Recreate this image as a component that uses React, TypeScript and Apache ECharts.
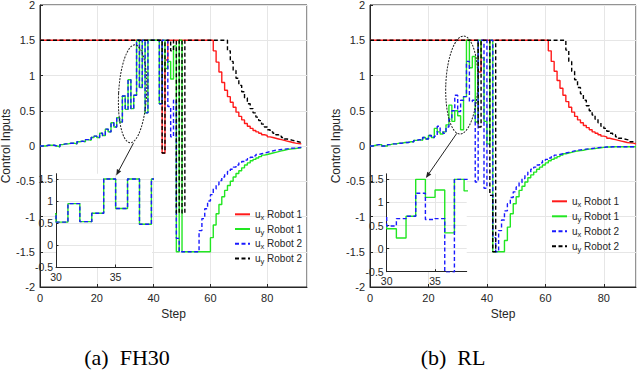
import React, { useEffect, useRef } from 'react';
import * as echarts from 'echarts';

// ---------- (a) FH30 : step index 0..92 ----------
const A_UX1 = [
  1.5, 1.5, 1.5, 1.5, 1.5, 1.5, 1.5, 1.5, 1.5, 1.5,
  1.5, 1.5, 1.5, 1.5, 1.5, 1.5, 1.5, 1.5, 1.5, 1.5,
  1.5, 1.5, 1.5, 1.5, 1.5, 1.5, 1.5, 1.5, 1.5, 1.5,
  1.5, 1.5, 1.5, 1.5, 1.5, 1.5, 1.5, 1.5, 1.5, 1.5,
  1.5, 1.5, 1.5, -0.1, 1.22, 1.5, 1.5, 1.5, 1.5, 1.5,
  1.5, 1.5, 1.5, 1.5, 1.5, 1.5, 1.5, 1.5, 1.5, 1.5,
  1.5, 1.35, 1.19, 1.05, 0.9, 0.79, 0.7, 0.62, 0.55, 0.48,
  0.42, 0.37, 0.32, 0.28, 0.25, 0.22, 0.2, 0.18, 0.16, 0.15,
  0.13, 0.12, 0.11, 0.1, 0.09, 0.08, 0.07, 0.06, 0.05, 0.04,
  0.035, 0.03, 0.025,
];
const A_UY1 = [
  0, 0, 0.01, 0.01, 0.01, 0, -0.01, 0.02, 0.03, 0.03,
  0.04, 0.04, 0.03, 0.06, 0.07, 0.06, 0.09, 0.08, 0.12, 0.14,
  0.12, 0.18, 0.15, 0.24, 0.2, 0.33, 0.27, 0.4, 0.34, 0.71,
  0.52, 0.94, 0.53, 0.72, 1.5, 0.83, 1.5, 0.47, 1.5, 1.5,
  1.5, 1.5, 0.6, 1.5, 1.1, 1.2, 0.95, 1.42, -1.5, 1.5,
  -1.5, -1.5, -1.5, -1.5, -1.5, -1.5, -1.5, -1.5, -1.5, -1.5,
  -1.3, -1.12, -0.96, -0.83, -0.72, -0.63, -0.56, -0.5, -0.44, -0.39,
  -0.35, -0.31, -0.27, -0.24, -0.21, -0.19, -0.17, -0.15, -0.13, -0.12,
  -0.11, -0.1, -0.09, -0.08, -0.07, -0.06, -0.05, -0.045, -0.04, -0.035,
  -0.03, -0.025, -0.02,
];
const A_UX2 = [
  0, 0, 0.01, 0.01, 0.01, 0, -0.01, 0.02, 0.03, 0.03,
  0.04, 0.04, 0.03, 0.06, 0.07, 0.06, 0.09, 0.08, 0.12, 0.14,
  0.12, 0.18, 0.15, 0.24, 0.2, 0.33, 0.27, 0.4, 0.34, 0.71,
  0.52, 0.94, 0.53, 0.72, 1.5, 0.83, 1.5, 0.47, 1.5, 1.5,
  1.5, 1.5, 0.6, 1.5, 1.5, 0.56, 0.13, 0.65, -1.31, -1.5,
  -1.5, -1.5, -1.5, -1.5, -1.5, -1.5, -1.2, -1.03, -0.89, -0.78,
  -0.69, -0.61, -0.55, -0.49, -0.44, -0.4, -0.36, -0.33, -0.3, -0.27,
  -0.24, -0.22, -0.2, -0.18, -0.16, -0.14, -0.12, -0.11, -0.1, -0.09,
  -0.08, -0.07, -0.06, -0.055, -0.05, -0.045, -0.04, -0.035, -0.03, -0.03,
  -0.025, -0.02, -0.02,
];
const A_UY2 = [
  1.5, 1.5, 1.5, 1.5, 1.5, 1.5, 1.5, 1.5, 1.5, 1.5,
  1.5, 1.5, 1.5, 1.5, 1.5, 1.5, 1.5, 1.5, 1.5, 1.5,
  1.5, 1.5, 1.5, 1.5, 1.5, 1.5, 1.5, 1.5, 1.5, 1.5,
  1.5, 1.5, 1.5, 1.5, 1.5, 1.5, 1.5, 1.5, 1.5, 1.5,
  1.5, 1.5, 1.5, -0.1, 1.5, 1.5, 1.35, 1.5, -0.95, 1.5,
  -0.95, 1.5, 1.5, 1.5, 1.5, 1.5, 1.5, 1.5, 1.5, 1.5,
  1.5, 1.5, 1.5, 1.5, 1.5, 1.5, 1.35, 1.2, 1.07, 0.96,
  0.86, 0.77, 0.68, 0.6, 0.53, 0.47, 0.41, 0.36, 0.31, 0.27,
  0.23, 0.2, 0.18, 0.16, 0.14, 0.12, 0.1, 0.09, 0.08, 0.07,
  0.06, 0.05, 0.04,
];

// ---------- (b) RL : step index 0..91 ----------
const B_UX1 = [
  1.5, 1.5, 1.5, 1.5, 1.5, 1.5, 1.5, 1.5, 1.5, 1.5,
  1.5, 1.5, 1.5, 1.5, 1.5, 1.5, 1.5, 1.5, 1.5, 1.5,
  1.5, 1.5, 1.5, 1.5, 1.5, 1.5, 1.5, 1.5, 1.5, 1.5,
  1.5, 1.5, 1.5, 1.5, 1.5, 1.5, 1.5, 1.05, 1.5, 1.5,
  1.5, 1.5, 1.5, 1.5, 1.5, 1.5, 1.5, 1.5, 1.5, 1.5,
  1.5, 1.5, 1.5, 1.5, 1.5, 1.5, 1.5, 1.5, 1.5, 1.5,
  1.5, 1.35, 1.2, 1.06, 0.93, 0.82, 0.72, 0.63, 0.55, 0.48,
  0.42, 0.37, 0.33, 0.29, 0.26, 0.23, 0.2, 0.18, 0.16, 0.14,
  0.13, 0.11, 0.1, 0.09, 0.08, 0.07, 0.06, 0.05, 0.045, 0.04,
  0.03, 0.03,
];
const B_UY1 = [
  0, 0.01, 0.02, 0.02, 0, 0, 0.02, 0.03, 0.03, 0.04,
  0.04, 0.05, 0.05, 0.06, 0.06, 0.08, 0.09, 0.08, 0.12, 0.1,
  0.15, 0.12, 0.25, 0.2, 0.17, 0.2, 0.3, 0.58, 0.35, 0.5,
  0.43, 0.23, 0.7, 1.5, 1.11, 1.27, 0.34, 1.5, 1.25, 0.35,
  0.03, 1.5, -1.5, -1.5, -1.5, -1.5, -1.34, -1.15, -0.96, -0.82,
  -0.72, -0.63, -0.57, -0.51, -0.45, -0.41, -0.37, -0.33, -0.3, -0.27,
  -0.24, -0.21, -0.19, -0.17, -0.15, -0.13, -0.11, -0.1, -0.09, -0.08,
  -0.07, -0.065, -0.06, -0.05, -0.045, -0.04, -0.035, -0.03, -0.025, -0.02,
  -0.015, -0.015, -0.01, -0.01, -0.01, -0.01, -0.01, -0.01, -0.01, -0.01,
  -0.01, -0.01,
];
const B_UX2 = [
  0, 0.01, 0.02, 0.02, 0, 0, 0.02, 0.03, 0.03, 0.04,
  0.04, 0.05, 0.05, 0.06, 0.06, 0.08, 0.09, 0.08, 0.12, 0.1,
  0.15, 0.12, 0.14, 0.28, 0.2, 0.18, 0.27, 0.38, 0.5, 0.72,
  0.49, 0.65, 0.7, 1.2, 0.63, 0.65, -0.51, 1.5, 1.5, -0.6,
  1.5, 1.5, -1.3, -1.5, -1.2, -1.05, -0.92, -0.82, -0.73, -0.65,
  -0.58, -0.52, -0.46, -0.41, -0.37, -0.33, -0.3, -0.27, -0.24, -0.21,
  -0.19, -0.17, -0.15, -0.13, -0.12, -0.11, -0.1, -0.09, -0.08, -0.07,
  -0.06, -0.055, -0.05, -0.045, -0.04, -0.035, -0.03, -0.025, -0.02, -0.02,
  -0.015, -0.015, -0.01, -0.01, -0.01, -0.01, -0.01, -0.01, -0.01, -0.01,
  -0.01, -0.01,
];
const B_UY2 = [
  1.5, 1.5, 1.5, 1.5, 1.5, 1.5, 1.5, 1.5, 1.5, 1.5,
  1.5, 1.5, 1.5, 1.5, 1.5, 1.5, 1.5, 1.5, 1.5, 1.5,
  1.5, 1.5, 1.5, 1.5, 1.5, 1.5, 1.5, 1.5, 1.5, 1.5,
  1.5, 1.5, 1.5, 1.5, 1.5, 1.5, 1.5, 0.27, 1.5, 1.5,
  1.5, -0.7, -1.5, 1.5, 1.5, 1.5, 1.5, 1.5, 1.5, 1.5,
  1.5, 1.5, 1.5, 1.5, 1.5, 1.5, 1.5, 1.5, 1.5, 1.5,
  1.5, 1.5, 1.5, 1.5, 1.5, 1.5, 1.5, 1.36, 1.2, 1.06,
  0.94, 0.83, 0.74, 0.65, 0.57, 0.5, 0.44, 0.38, 0.33, 0.28,
  0.25, 0.21, 0.18, 0.16, 0.13, 0.11, 0.1, 0.09, 0.08, 0.06,
  0.05, 0.04,
];

const SERIES_NAMES = ['ux Robot 1', 'uy Robot 1', 'ux Robot 2', 'uy Robot 2'];
const Y_TICKS_INSET = [-0.5, 0, 0.5, 1, 1.5];
const X_TICKS_INSET = [30, 35];
const CAPTIONS = ['(a)  FH30', '(b)  RL'];

const FONT = '"Liberation Sans", Arial, sans-serif';
const AX = '#262626';
const GRIDC = '#e6e6e6';
const COLORS = ['#ff1a1a', '#22e622', '#1a1aff', '#000000'];
const DASHED = [false, false, true, true];

const xy = (arr: number[]) => arr.map((v, i) => [i, v]);

function mainSeries(arrs: number[][], gi: number) {
  return arrs.map((a, k) => ({
    type: 'line',
    name: SERIES_NAMES[k],
    xAxisIndex: gi,
    yAxisIndex: gi,
    data: xy(a),
    step: 'end',
    symbol: 'none',
    showSymbol: false,
    z: 2,
    lineStyle: { color: COLORS[k], width: 1.4, type: DASHED[k] ? [4, 2.5] : 'solid' },
    itemStyle: { color: COLORS[k] },
    silent: true,
  }));
}

function insetSeries(arrs: number[][], gi: number, tag: string) {
  const list: any[] = [];
  [1, 2].forEach((k) => {
    const s: any = {
      type: 'line',
      name: 'inset-' + tag + k,
      xAxisIndex: gi,
      yAxisIndex: gi,
      data: xy(arrs[k]),
      step: 'end',
      symbol: 'none',
      showSymbol: false,
      z: 6,
      silent: true,
      lineStyle: { color: COLORS[k], width: 1.4, type: DASHED[k] ? [4, 2.5] : 'solid' },
    };
    if (k === 1) {
      s.markLine = {
        silent: true,
        z: 4,
        symbol: ['none', 'none'],
        label: { show: false },
        lineStyle: { color: GRIDC, width: 1, type: 'solid' },
        emphasis: { disabled: true },
        data: [
          ...Y_TICKS_INSET.filter((v) => v > Y_TICKS_INSET[0]).map((v) => ({ yAxis: v })),
          ...X_TICKS_INSET.filter((v) => v > X_TICKS_INSET[0]).map((v) => ({ xAxis: v })),
        ],
      };
    }
    list.push(s);
  });
  return list;
}

function mainX(gi: number, max: number) {
  return {
    type: 'value', gridIndex: gi, min: 0, max, interval: 20,
    name: 'Step', nameLocation: 'middle', nameGap: 20,
    nameTextStyle: { fontSize: 12, color: AX, fontFamily: FONT },
    axisLine: { show: true, onZero: false, lineStyle: { color: AX, width: 1 } },
    axisTick: { show: true, inside: true, length: 3, lineStyle: { color: AX } },
    axisLabel: { fontSize: 11, color: AX, margin: 5, fontFamily: FONT, showMaxLabel: false },
    splitLine: { show: true, lineStyle: { color: GRIDC, width: 1 } },
  };
}
function mainY(gi: number, gap: number) {
  return {
    type: 'value', gridIndex: gi, min: -2, max: 2, interval: 0.5,
    name: 'Control Inputs', nameLocation: 'middle', nameGap: gap, nameRotate: 90,
    nameTextStyle: { fontSize: 12, color: AX, fontFamily: FONT },
    axisLine: { show: true, onZero: false, lineStyle: { color: AX, width: 1 } },
    axisTick: { show: true, inside: true, length: 3, lineStyle: { color: AX } },
    axisLabel: { fontSize: 11, color: AX, margin: 5, fontFamily: FONT },
    splitLine: { show: true, lineStyle: { color: GRIDC, width: 1 } },
  };
}
function insetX(gi: number, max: number) {
  return {
    type: 'value', gridIndex: gi, min: 30, max, interval: 5, z: 5,
    axisLine: { show: true, onZero: false, lineStyle: { color: AX, width: 1 } },
    axisTick: { show: true, inside: true, length: 2.5, lineStyle: { color: AX }, customValues: X_TICKS_INSET },
    axisLabel: { fontSize: 10.5, color: AX, margin: 4, fontFamily: FONT, hideOverlap: false, customValues: X_TICKS_INSET },
    splitLine: { show: false },
  };
}
function insetY(gi: number) {
  return {
    type: 'value', gridIndex: gi, min: -0.5, max: 1.62, interval: 0.5, z: 5,
    axisLine: { show: true, onZero: false, lineStyle: { color: AX, width: 1 } },
    axisTick: { show: true, inside: true, length: 2.5, lineStyle: { color: AX }, customValues: Y_TICKS_INSET },
    axisLabel: { fontSize: 10.5, color: AX, margin: 3, fontFamily: FONT, hideOverlap: false, customValues: Y_TICKS_INSET },
    splitLine: { show: false },
  };
}

function legend(left: number, top: number, gap: number) {
  return {
    data: SERIES_NAMES,
    orient: 'vertical',
    left, top,
    itemWidth: 15,
    itemHeight: 10,
    itemGap: gap,
    selectedMode: false,
    backgroundColor: 'transparent',
    itemStyle: { opacity: 0 },
    formatter: (name: string) => `{m|u}{s|${name.charAt(1)}}{m| ${name.slice(3)}}`,
    textStyle: {
      color: AX,
      fontFamily: FONT,
      fontSize: 10,
      rich: {
        m: { fontSize: 10, lineHeight: 14, color: AX, fontFamily: FONT },
        s: { fontSize: 7.5, lineHeight: 8, verticalAlign: 'bottom', color: AX, fontFamily: FONT },
      },
    },
  };
}

export default function App() {
  const ref = useRef<HTMLDivElement>(null);
  useEffect(() => {
    if (!ref.current) return;
    const chart = echarts.init(ref.current, null, { renderer: 'svg' });
    const A = [A_UX1, A_UY1, A_UX2, A_UY2];
    const B = [B_UX1, B_UY1, B_UX2, B_UY2];
    const option: any = {
      animation: false,
      backgroundColor: '#ffffff',
      grid: [
        { left: 40, top: 5, width: 267, height: 282, show: true, borderColor: AX, borderWidth: 1, backgroundColor: 'transparent', outerBoundsMode: 'none' },
        { left: 370, top: 5, width: 266, height: 282, show: true, borderColor: AX, borderWidth: 1, backgroundColor: 'transparent', outerBoundsMode: 'none' },
        { left: 56, top: 173.7, width: 96, height: 93.3, show: true, z: 3, borderWidth: 0, backgroundColor: '#ffffff', outerBoundsMode: 'none' },
        { left: 386.7, top: 173.8, width: 80, height: 97.9, show: true, z: 3, borderWidth: 0, backgroundColor: '#ffffff', outerBoundsMode: 'none' },
      ],
      xAxis: [mainX(0, 94), mainX(1, 91), insetX(2, 38.05), insetX(3, 38.27)],
      yAxis: [mainY(0, 27), mainY(1, 26), insetY(2), insetY(3)],
      legend: [legend(229, 204.3, 2.7), legend(546, 191.3, 3)],
      series: [
        ...mainSeries(A, 0),
        ...mainSeries(B, 1),
        ...insetSeries(A, 2, 'a'),
        ...insetSeries(B, 3, 'b'),
      ],
    };
    chart.setOption(option);

    const px = (g: number, pt: number[]) => chart.convertToPixel({ gridIndex: g } as any, pt) as number[];
    const dot = { stroke: '#222222', lineWidth: 1, lineDash: [2, 1.2], fill: 'none' };
    const ellipse = (c: number[], rx: number, ry: number, rot: number) => ({
      type: 'ellipse', x: c[0], y: c[1], rotation: rot, z: 10, silent: true,
      shape: { cx: 0, cy: 0, rx, ry }, style: { ...dot },
    });
    const arrow = (s: number[], t: number[]) => {
      const dx = t[0] - s[0], dy = t[1] - s[1];
      const L = Math.hypot(dx, dy);
      const ux = dx / L, uy = dy / L;
      const hl = 6, hw = 2.4;
      const bx = t[0] - ux * hl, by = t[1] - uy * hl;
      return [
        { type: 'line', z: 10, silent: true, shape: { x1: s[0], y1: s[1], x2: bx, y2: by }, style: { stroke: '#222222', lineWidth: 1 } },
        { type: 'polygon', z: 10, silent: true, shape: { points: [[t[0], t[1]], [bx - uy * hw, by + ux * hw], [bx + uy * hw, by - ux * hw]] }, style: { fill: '#222222' } },
      ];
    };
    const capFont = '22px "Liberation Serif", "Times New Roman", serif';
    const graphics: any[] = [
      ellipse(px(0, [32.6, 0.74]), 14, 49, -0.05),
      ...arrow(px(0, [32.9, 0.04]), px(2, [35.05, 1.58])),
      ellipse(px(1, [31.4, 0.865]), 16, 49, -0.04),
      ...arrow(px(1, [29.7, 0.18]), px(3, [34.05, 1.53])),
      {
        type: 'text', x: 127, y: 357, z: 10, silent: true,
        style: { text: CAPTIONS[0], font: capFont, fill: '#000', align: 'center', verticalAlign: 'middle' },
      },
      {
        type: 'text', x: 453, y: 357, z: 10, silent: true,
        style: { text: CAPTIONS[1], font: capFont, fill: '#000', align: 'center', verticalAlign: 'middle' },
      },
    ];
    chart.setOption({ graphic: graphics });
    return () => chart.dispose();
  }, []);
  return <div ref={ref} style={{ position: 'fixed', left: 0, top: 0, width: 640, height: 383 }} />;
}
